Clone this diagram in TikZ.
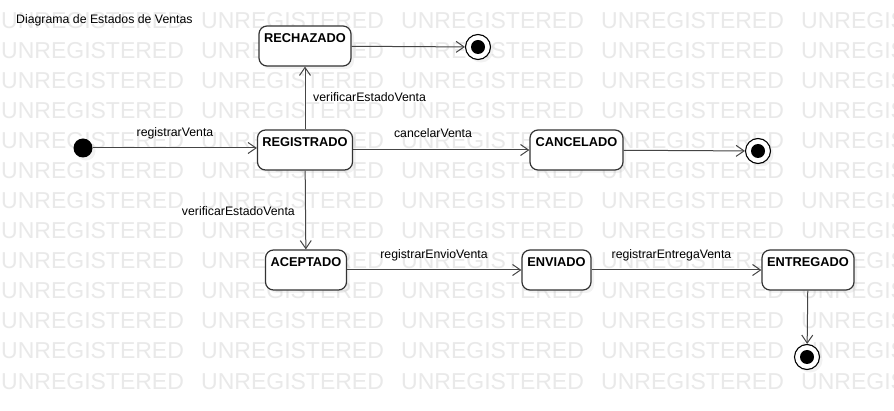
\documentclass[tikz,border=0pt]{standalone}
\usepackage{fontspec}
\setmainfont{Liberation Sans}
\usetikzlibrary{arrows.meta,shadows}
\definecolor{wmcol}{HTML}{E9E9E9}
\definecolor{edgecol}{HTML}{454545}
\definecolor{boxcol}{HTML}{333333}
\tikzset{
  wmark/.style={anchor=base west, inner sep=0pt, text=wmcol, font=\fontsize{23}{23}\selectfont},
  shadowed/.style={drop shadow={shadow xshift=3pt, shadow yshift=-3pt, opacity=0.10}},
  statebox/.style={draw=boxcol, line width=1.2pt, rounded corners=8pt, fill=white,
     minimum height=40pt, inner sep=0pt, shadowed},
  statetext/.style={inner sep=0pt, font=\fontsize{12.8}{14}\selectfont\bfseries},
  lbl/.style={inner sep=0pt, font=\fontsize{12.3}{14}\selectfont},
  initstate/.style={circle, fill=black, minimum size=19pt, inner sep=0pt, shadowed},
  finalout/.style={circle, draw=black, line width=1.1pt, fill=white, minimum size=25pt, inner sep=0pt, shadowed},
  finalin/.style={circle, fill=black, minimum size=14pt, inner sep=0pt},
  trans/.style={draw=edgecol, line width=1pt, -{Straight Barb[length=8pt,width=11pt]}},
}
\begin{document}
\begin{tikzpicture}[x=1pt,y=-1pt]
\useasboundingbox (0,0) rectangle (894,411);
\fill[white] (0,0) rectangle (894,411);
% watermark
\foreach \j in {0,...,12}{
  \foreach \i in {0,...,4}{
    \node[wmark] (wm-\i-\j) at (1+200*\i, 29+30*\j) {UNREGISTERED};
  }
}
% title
\node[lbl, anchor=west] (title) at (16,20.5) {Diagrama de Estados de Ventas};
% states
\node[statebox, minimum width=92pt] (rech) at (305,46) {};
\node[statetext] (rech-t) at ([yshift=-12.5pt]rech.north) {RECHAZADO};
\node[statebox, minimum width=95pt] (reg) at (305,150) {};
\node[statetext] (reg-t) at ([yshift=-13pt]reg.north) {REGISTRADO};
\node[statebox, minimum width=93pt] (canc) at (576.5,150) {};
\node[statetext] (canc-t) at ([yshift=-12.5pt]canc.north) {CANCELADO};
\node[statebox, minimum width=81pt] (acep) at (306,270) {};
\node[statetext] (acep-t) at ([yshift=-12.5pt]acep.north) {ACEPTADO};
\node[statebox, minimum width=69pt] (env) at (556.5,270) {};
\node[statetext] (env-t) at ([yshift=-12.5pt]env.north) {ENVIADO};
\node[statebox, minimum width=92pt] (entr) at (808,270) {};
\node[statetext] (entr-t) at ([yshift=-12.5pt]entr.north) {ENTREGADO};
% pseudo states
\node[initstate] (init) at (83,148) {};
\node[finalout] (f1) at (478,47) {};
\node[finalin] (f1i) at (f1) {};
\node[finalout] (f2) at (758,151) {};
\node[finalin] (f2i) at (f2) {};
\node[finalout] (f3) at (807,357) {};
\node[finalin] (f3i) at (f3) {};
% transitions
\draw[trans] (init) -- (init -| reg.west);
\draw[trans] (reg) -- (rech);
\draw[trans] (rech) -- (f1);
\draw[trans] (reg) -- (canc);
\draw[trans] (canc) -- (f2);
\draw[trans] (reg) -- (acep);
\draw[trans] (acep) -- (env);
\draw[trans] (env) -- (entr);
\draw[trans] (entr) -- (f3);
% labels
\node[lbl] (l1) at (175,133) {registrarVenta};
\node[lbl, anchor=west] (l2) at (313,97) {verificarEstadoVenta};
\node[lbl] (l3) at (433,133) {cancelarVenta};
\node[lbl, anchor=east] (l4) at (295,211) {verificarEstadoVenta};
\node[lbl] (l5) at (434,255.5) {registrarEnvioVenta};
\node[lbl] (l6) at (671.5,255) {registrarEntregaVenta};
\end{tikzpicture}
\end{document}
